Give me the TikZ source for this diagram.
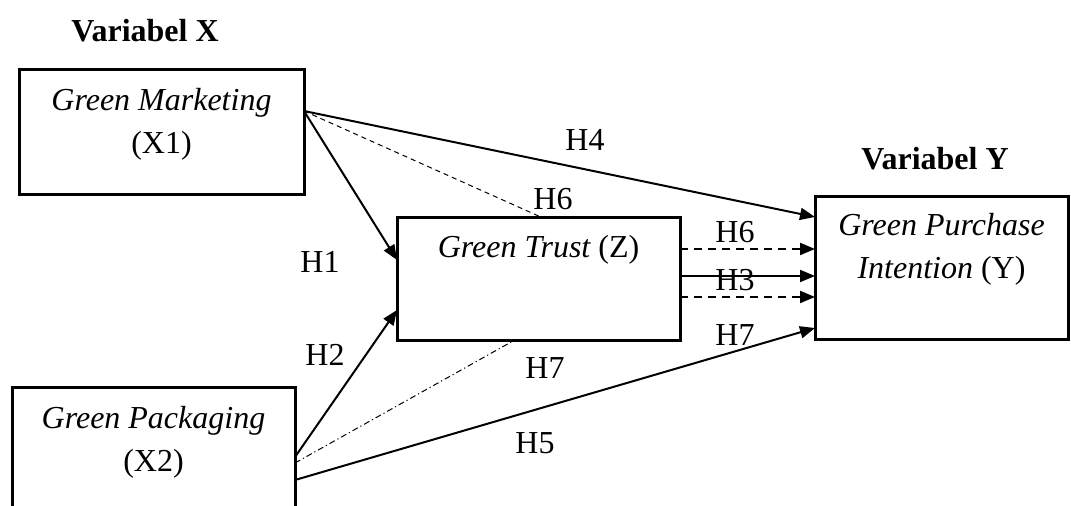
\documentclass[tikz,border=0pt]{standalone}
\usepackage{fontspec}
\setmainfont{Liberation Serif}
\usetikzlibrary{arrows.meta,calc}
\tikzset{
  varbox/.style={draw, line width=1.5pt, outer sep=0pt, inner sep=0pt},
  path/.style={line width=1pt, -{Triangle[length=7.5pt,width=6pt]}},
  hyp/.style={inner sep=0pt}
}
\begin{document}
\begin{tikzpicture}[x=0.5pt,y=-0.5pt,font=\fontsize{16}{21.5}\selectfont]
    \useasboundingbox (0,0) rectangle (1071,506);
    \clip (0,0) rectangle (1071,506);
    % boxes
    \node[varbox, minimum width=142.5pt, minimum height=62.5pt] (mkt) at (161.5,132.5) {};
    \node[varbox, minimum width=141.5pt, minimum height=76pt] (pkg) at (153.5,464) {};
    \node[varbox, minimum width=141.5pt, minimum height=61.5pt] (trust) at (538.5,279.5) {};
    \node[varbox, minimum width=126.5pt, minimum height=71.5pt] (intent) at (941.5,268.5) {};
    % texts
    \node (varx) at (145,31) {\bfseries Variabel X};
    \node (vary) at (935,159) {\bfseries Variabel Y};
    \node[align=center] (mktT) at (161.5,124) {\itshape Green Marketing\\(X1)};
    \node[align=center] (pkgT) at (153.5,442) {\itshape Green Packaging\\(X2)};
    \node (trustT) at (538.5,250) {\itshape Green Trust \upshape(Z)};
    \node[align=center] (intentT) at (941.5,249) {\itshape Green Purchase\\\itshape Intention \upshape(Y)};
    % anchor points
    \coordinate (m0) at ($(mkt.north east)+(0,41)$);
    \coordinate (p1) at ($(pkg.north east)+(0,69)$);
    \coordinate (p2) at ($(pkg.north east)+(0,75)$);
    \coordinate (p3) at ($(pkg.north east)+(0,92)$);
    \coordinate (t1) at ($(trust.north east)+(0,31)$);
    \coordinate (t2) at ($(trust.north east)+(0,58)$);
    \coordinate (t3) at ($(trust.north east)+(0,79)$);
    % connectors
    \draw[path] (m0) -- ($(intent.north west)+(0,20)$);
    \draw[path] (m0) -- ($(trust.north west)+(0,42)$);
    \draw[line width=0.5pt, dash pattern=on 2.5pt off 2pt] (m0) -- ($(trust.north west)+(146,0)$);
    \draw[path] (p1) -- ($(trust.south west)+(0,-31)$);
    \draw[line width=0.5pt, dash pattern=on 3pt off 1.5pt on 0.6pt off 1.5pt] (p2) -- ($(trust.south west)+(116,0)$);
    \draw[path] (p3) -- ($(intent.south west)+(0,-12)$);
    \draw[path, dash pattern=on 4pt off 3pt] (t1) -- (t1 -| intent.west);
    \draw[path] (t2) -- (t2 -| intent.west);
    \draw[path, dash pattern=on 4pt off 3pt] (t3) -- (t3 -| intent.west);
    % labels
    \node[hyp] (h4) at (585,140) {H4};
    \node[hyp] (h6a) at (553,199) {H6};
    \node[hyp] (h1) at (320,262) {H1};
    \node[hyp] (h2) at (325,355) {H2};
    \node[hyp] (h7a) at (545,368) {H7};
    \node[hyp] (h5) at (535,443) {H5};
    \node[hyp] (h6b) at (735,232) {H6};
    \node[hyp] (h3) at (735,280) {H3};
    \node[hyp] (h7b) at (735,335) {H7};
\end{tikzpicture}
\end{document}
